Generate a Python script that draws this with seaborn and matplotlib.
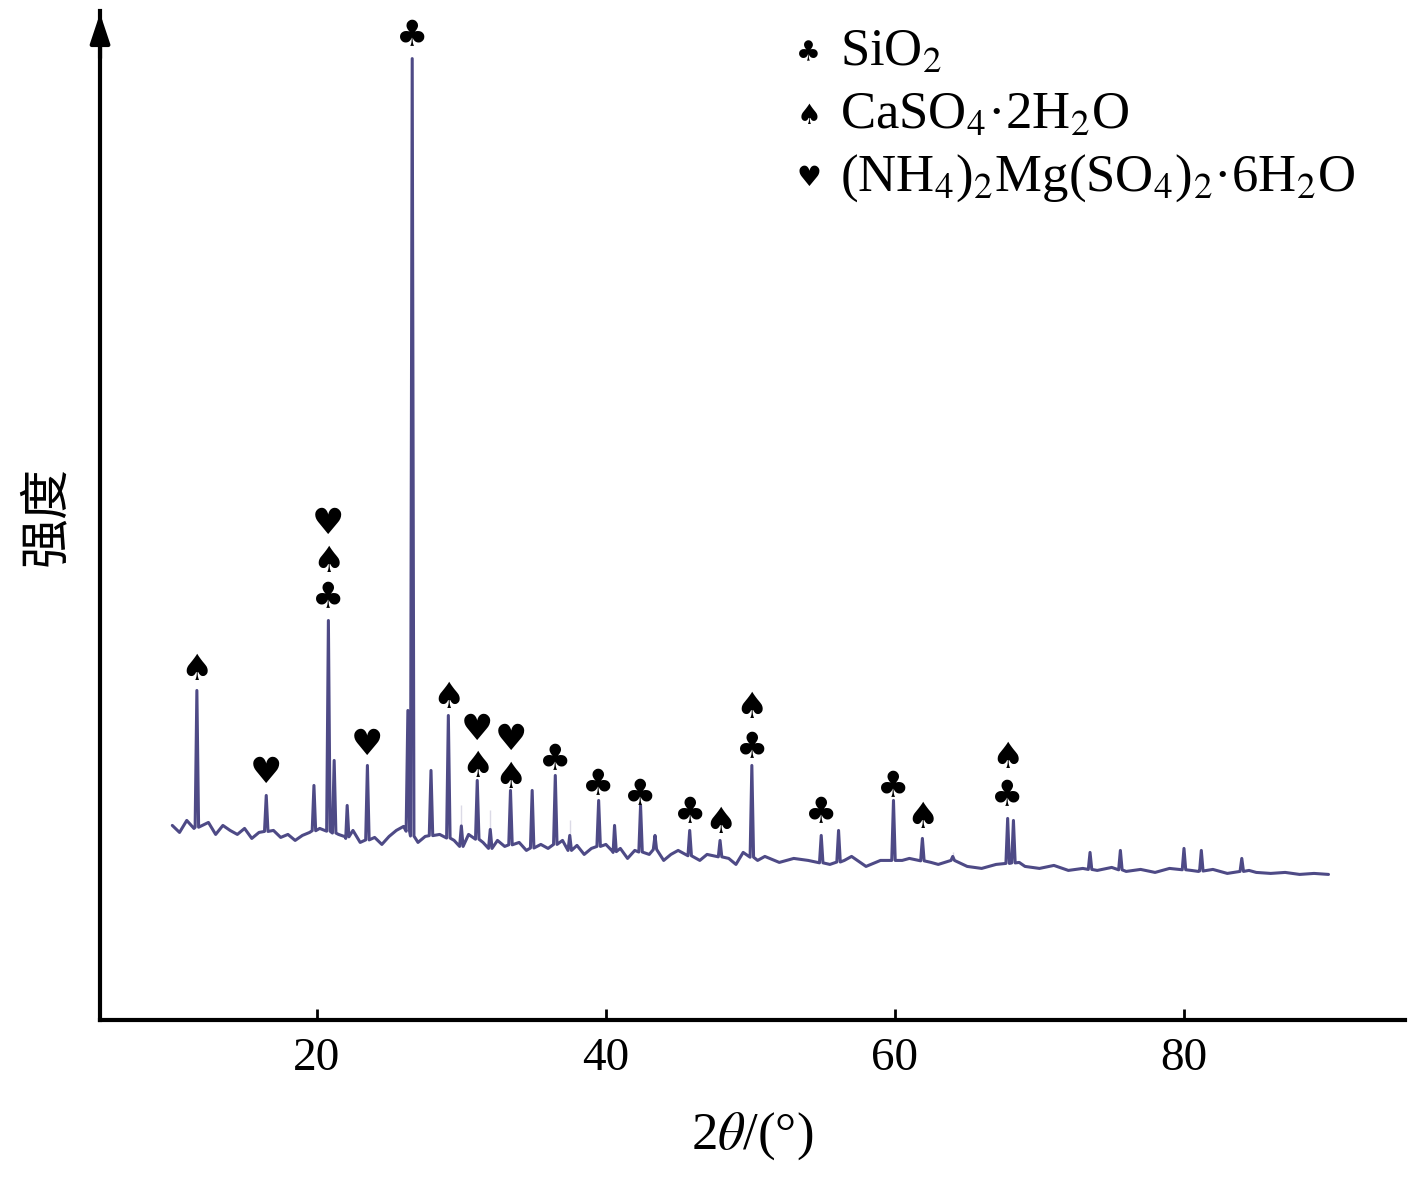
import matplotlib
matplotlib.use("Agg")
import matplotlib.pyplot as plt
import seaborn as sns
import numpy as np
import pandas as pd

sns.set_theme(style="white")
plt.rcParams['font.family'] = ['Liberation Serif', 'DejaVu Sans']
plt.rcParams['mathtext.fontset'] = 'stix'
plt.rcParams['text.color'] = 'black'
plt.rcParams['axes.labelcolor'] = 'black'
plt.rcParams['xtick.color'] = 'black'

# background (2theta, intensity)
bg_x = [10,10.5,11,11.5,12.5,13,13.5,14,14.5,15,15.5,16,17,17.5,18,18.5,19,19.5,20.2,21.5,22,22.5,23,24,24.5,25,25.5,26,27,27.5,28.5,29.5,30,30.5,31.5,32,32.5,33,34,34.5,35.5,36,37,37.5,38,38.5,39,40,40.5,41,41.5,42,43,43.5,44,44.5,45,46.5,47,48.5,49,49.5,50.5,51,52,53,54,55.5,56.5,57,58,59,60.5,61,62.5,63,64,65,66,67,68.6,69,70,71,72,73,74,75,76,77,78,79,80.5,81,82,83,84.5,85,86,87,88,89,90]
bg_y = [195,188,200,192,198,186,195,190,186,192,182,188,190,183,186,180,185,188,192,186,182,190,178,183,176,184,190,194,178,184,186,180,174,186,178,172,180,174,178,170,176,172,180,170,175,166,172,176,168,172,162,170,166,172,160,166,170,160,166,162,156,168,160,164,158,162,160,156,160,164,154,160,160,162,158,156,160,154,152,156,158,154,152,155,150,152,150,153,149,151,148,152,150,149,151,147,150,148,147,148,146,147,146]
# peaks (position, height above axis)
pk_x = [11.7,16.5,19.8,20.8,21.2,22.1,23.5,26.3,26.6,27.9,29.1,30.0,31.1,32.0,33.4,34.9,36.5,37.5,39.5,40.6,42.4,43.4,45.8,47.9,50.1,54.9,56.1,59.9,61.9,64.0,67.8,68.2,73.5,75.6,80.0,81.2,84.0]
pk_y = [330,225,235,400,260,215,255,310,962,250,305,215,240,210,230,230,245,200,220,195,215,185,190,180,255,185,190,220,182,168,202,200,168,170,172,170,162]

xs = list(bg_x); ys = list(bg_y)
for px, py in zip(pk_x, pk_y):
    b = np.interp(px, bg_x, bg_y)
    xs += [px-0.12, px, px+0.12]; ys += [b, py, b]
df = pd.DataFrame({"x": xs, "y": ys}).sort_values("x")

# markers: (symbol, x, y)
mk_sym = ['♠','♥','♣','♠','♥','♥','♣','♠','♥','♠','♥','♠','♣','♣','♣','♣','♠','♠','♣','♣','♣','♠','♠','♣']
mk_x = [11.7,16.5,20.8,20.8,20.8,23.5,26.6,29.1,31.1,31.1,33.4,33.4,36.5,39.5,42.4,45.8,47.9,50.1,50.1,54.9,59.9,61.9,67.8,67.8]
mk_y = [350,247,422,458,497,275,985,322,290,253,280,242,260,235,225,207,197,312,272,207,233,202,262,224]

fig = plt.figure(figsize=(14.17, 11.81), dpi=100)
ax = fig.add_axes([0.0706, 0.136, 0.921, 0.855])
sns.lineplot(data=df, x="x", y="y", ax=ax, color="#4e4a86", lw=2.2, sort=False)
for s, x, y in zip(mk_sym, mk_x, mk_y):
    ax.text(x, y, s, ha='center', va='center', fontsize=26, family='DejaVu Sans', color='black')

ax.set_xlim(5, 95.3)
ax.set_ylim(0, 1010)
ax.set_yticks([])
ax.set_xticks([20, 40, 60, 80])
ax.tick_params(axis='x', direction='in', length=8, width=2, labelsize=34, bottom=True, pad=12)
for s in ['top', 'right']:
    ax.spines[s].set_visible(False)
for s in ['left', 'bottom']:
    ax.spines[s].set_linewidth(3)
    ax.spines[s].set_color('black')
ax.annotate('', xy=(0, 1.0), xytext=(0, 0.95), xycoords='axes fraction',
            arrowprops=dict(arrowstyle='-|>,head_width=0.5,head_length=1.5', color='black', lw=3))
ax.set_xlabel(r'2$\theta$/(°)', fontsize=38, labelpad=22)
ax.set_ylabel('强度', fontsize=36, family=['Noto Sans CJK SC'], labelpad=20)

leg = [('♣', r'SiO$_2$'), ('♠', r'CaSO$_4$·2H$_2$O'), ('♥', r'(NH$_4$)$_2$Mg(SO$_4$)$_2$·6H$_2$O')]
for i, (s, t) in enumerate(leg):
    yy = 0.958 - i*0.062
    ax.text(0.543, yy, s, transform=ax.transAxes, fontsize=20, family='DejaVu Sans', ha='center', va='center')
    ax.text(0.567, yy, t, transform=ax.transAxes, fontsize=38, va='center')

fig.savefig("out.png", dpi=100)
